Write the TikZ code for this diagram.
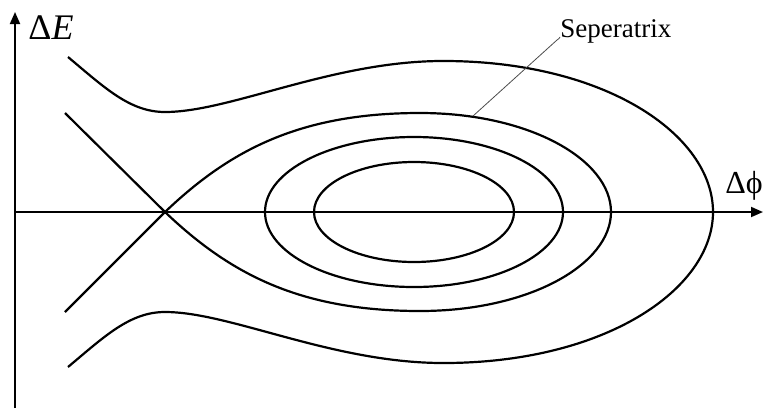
\documentclass[tikz,border=0pt]{standalone}
\usepackage{fontspec}
\setmainfont{Liberation Serif}
\usepackage{tikz}
\usetikzlibrary{arrows.meta,calc,positioning}

\begin{document}
\begin{tikzpicture}[x=0.5pt,y=-0.5pt,>={Triangle[length=6pt,width=5pt]},
    axis/.style={line width=0.9pt,->},
    orbit/.style={line width=1.1pt},
    leader/.style={line width=0.4pt,black!70}]
  \useasboundingbox (0,0) rectangle (765,408);
  % axes
  \coordinate (O) at (15,212);
  \coordinate (Ybot) at (15,408);
  \coordinate (Ytop) at (15,12);
  \coordinate (Xend) at (763,212);
  \draw[axis] (Ybot) -- (Ytop);
  \draw[axis] (O) -- (Xend);
  \node[anchor=base west,inner sep=0pt,font=\fontsize{18}{20}\selectfont] (dE) at (28,39) {Δ\textit{E}};
  \node[anchor=base west,inner sep=0pt,font=\fontsize{16}{18}\selectfont] (dphi) at (725,193) {Δϕ};
  % closed orbits
  \draw[orbit] (414,212) ellipse [x radius=100,y radius=50];
  \draw[orbit] (414,212) ellipse [x radius=149,y radius=75];
  % separatrix
  \coordinate (X) at (165,212);
  \draw[orbit] (65,113) -- (X) -- (65,312);
  \draw[orbit] (X) .. controls (230,150) and (300,113) .. (420,113)
    .. controls (530,113) and (611,160) .. (611,212)
    .. controls (611,264) and (530,311) .. (420,311)
    .. controls (300,311) and (230,274) .. (X);
  % outer trajectory
  \draw[orbit] (68,57) .. controls (105,88) and (130,112) .. (165,112)
    .. controls (230,112) and (330,62) .. (440,61)
    .. controls (605,60) and (713,135) .. (713,212)
    .. controls (713,289) and (605,364) .. (440,363)
    .. controls (330,362) and (230,312) .. (165,312)
    .. controls (130,312) and (105,336) .. (68,367);
  % label
  \coordinate (sepPt) at (473,116);
  \node[anchor=base west,inner sep=0pt,font=\fontsize{13.5}{16}\selectfont] (sep) at (560,37) {Seperatrix};
  \draw[leader] (sepPt) -- (557,40) to[out=45,in=-100] (sep.base west);
\end{tikzpicture}
\end{document}
